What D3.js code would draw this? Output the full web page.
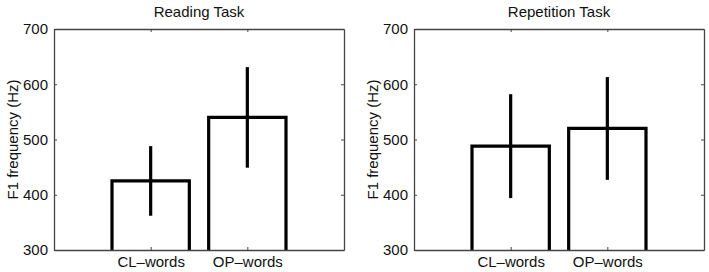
<!DOCTYPE html>
<html>
<head>
<meta charset="utf-8">
<script src="https://cdn.jsdelivr.net/npm/d3@7"></script>
<style>
  body { margin: 0; background: #fff; }
  svg { display: block; font-family: "Liberation Sans", Arial, sans-serif; }
</style>
</head>
<body>
<div id="chart"></div>
<script>
// data
var categories = ['CL\u2013words', 'OP\u2013words'];
var tasks = ['Reading Task', 'Repetition Task'];
var readingMeans = [425, 540];
var readingErr = [63, 91];
var repetitionMeans = [488, 520];
var repetitionErr = [94, 93];
var yTicks = [300, 400, 500, 600, 700];

var panels = [
  {title: tasks[0], means: readingMeans, err: readingErr, left: 54},
  {title: tasks[1], means: repetitionMeans, err: repetitionErr, left: 414}
];

var W = 709, H = 272;
var plotTop = 29, plotBottom = 250, pw = 290;
var fs = '15px';

var svg = d3.select('#chart').append('svg')
  .attr('width', W)
  .attr('height', H);

panels.forEach(function(p) {
  var g = svg.append('g').attr('transform', 'translate(' + p.left + ',0)');

  // matlab style: xlim [0 3], bars at 1 and 2
  var x = d3.scaleLinear().domain([0, 3]).range([0, pw]);
  var y = d3.scaleLinear().domain([300, 700]).range([plotBottom, plotTop]);
  var bw = x(0.8) - x(0);

  // bars
  g.selectAll('.bar')
    .data(p.means)
    .enter()
    .append('path')
    .attr('class', 'bar')
    .attr('d', function(d, i) {
      var x0 = x(i + 1) - bw / 2, x1 = x(i + 1) + bw / 2;
      return 'M' + x0 + ',' + y(300) + 'V' + y(d) + 'H' + x1 + 'V' + y(300);
    })
    .attr('fill', 'none')
    .attr('stroke', '#000')
    .attr('stroke-width', 3.2);

  // error bars
  g.selectAll('.err')
    .data(p.means)
    .enter()
    .append('line')
    .attr('x1', function(d, i) { return x(i + 1); })
    .attr('x2', function(d, i) { return x(i + 1); })
    .attr('y1', function(d, i) { return y(d - p.err[i]); })
    .attr('y2', function(d, i) { return y(d + p.err[i]); })
    .attr('stroke', '#000')
    .attr('stroke-width', 3.2);

  // axes box
  var axColor = '#444';
  var yl = g.append('g').call(d3.axisLeft(y).tickValues(yTicks).tickSizeInner(-3).tickSizeOuter(0).tickPadding(6));
  var yr = g.append('g').attr('transform', 'translate(' + pw + ',0)')
    .call(d3.axisRight(y).tickValues(yTicks).tickSizeInner(-3).tickSizeOuter(0).tickFormat(''));
  var xb = g.append('g').attr('transform', 'translate(0,' + plotBottom + ')')
    .call(d3.axisBottom(x).tickValues([1, 2]).tickSizeInner(-3).tickSizeOuter(0).tickPadding(6)
      .tickFormat(function(d) { return categories[d - 1]; }));
  var xt = g.append('g').attr('transform', 'translate(0,' + plotTop + ')')
    .call(d3.axisTop(x).tickValues([1, 2]).tickSizeInner(-3).tickSizeOuter(0).tickFormat(''));

  [yl, yr, xb, xt].forEach(function(a) {
    a.select('.domain').attr('stroke', axColor).attr('stroke-width', 1.3);
    a.selectAll('.tick line').attr('stroke', axColor);
    a.selectAll('.tick text').attr('fill', '#111').style('font-size', fs)
      .style('font-family', '"Liberation Sans", Arial, sans-serif');
  });

  // title
  g.append('text')
    .attr('x', pw / 2)
    .attr('y', 17)
    .attr('text-anchor', 'middle')
    .style('font-size', fs)
    .attr('fill', '#111')
    .text(p.title);

  // y label
  g.append('text')
    .attr('transform', 'translate(-36,' + ((plotTop + plotBottom) / 2) + ') rotate(-90)')
    .attr('text-anchor', 'middle')
    .style('font-size', fs)
    .attr('fill', '#111')
    .text('F1 frequency (Hz)');
});
</script>
</body>
</html>
